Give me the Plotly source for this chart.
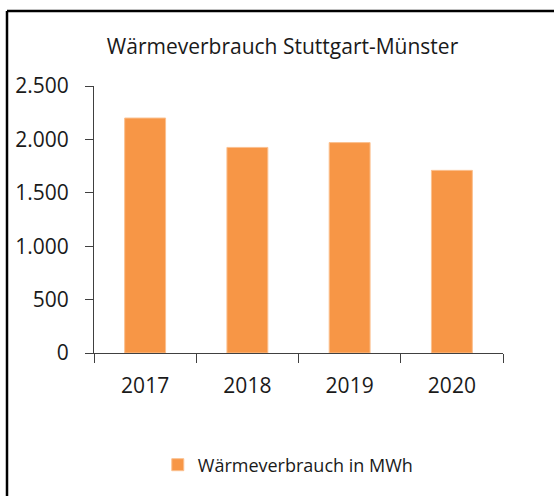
import plotly.graph_objects as go

years = ["2017", "2018", "2019", "2020"]
values = [2200, 1925, 1970, 1710]
y_ticks = [0, 500, 1000, 1500, 2000, 2500]
y_tick_labels = ["0", "500", "1.000", "1.500", "2.000", "2.500"]

W, H = 554, 496
ml, mr, mt, mb = 94, 51, 86, 143
pw = W - ml - mr
ph = H - mt - mb

FONT = "Open Sans"

fig = go.Figure()
fig.add_trace(go.Bar(
    x=years, y=values, name="Wärmeverbrauch in MWh",
    marker=dict(color="#F79646", line=dict(color="#FBC08F", width=1)),
    width=0.4,
))

def px_x(p):
    return (p - ml) / pw

def px_y(p):
    return (H - mb - p) / ph

fig.update_layout(
    width=W, height=H,
    margin=dict(l=ml, r=mr, t=mt, b=mb),
    paper_bgcolor="white", plot_bgcolor="white",
    font=dict(family=FONT, color="#1a1a1a"),
    title=dict(text="Wärmeverbrauch Stuttgart-Münster", x=0.51, xref="container",
               xanchor="center", y=1 - 47 / H, yref="container", yanchor="middle",
               font=dict(size=21, family=FONT, color="#1a1a1a")),
    showlegend=True,
    legend=dict(orientation="h", x=0.475, xanchor="center", y=px_y(465), yanchor="middle",
                font=dict(size=18, family=FONT, color="#1a1a1a"),
                itemwidth=30),
    bargap=0.6,
    shapes=[
        dict(type="line", xref="paper", yref="paper", x0=px_x(7), x1=px_x(560),
             y0=px_y(11), y1=px_y(11), line=dict(color="black", width=2.5)),
        dict(type="line", xref="paper", yref="paper", x0=px_x(7), x1=px_x(7),
             y0=px_y(11), y1=px_y(505), line=dict(color="black", width=2.5)),
    ],
)
fig.update_xaxes(
    type="category", showline=True, linecolor="#404040", linewidth=1,
    ticks="outside", tickson="boundaries", ticklen=9, tickcolor="#404040",
    showgrid=False, tickfont=dict(size=21, family=FONT, color="#1a1a1a"),
    ticklabelstandoff=14,
)
fig.update_yaxes(
    range=[0, 2500], tickvals=y_ticks, ticktext=y_tick_labels,
    showline=True, linecolor="#404040", linewidth=1,
    ticks="outside", ticklen=8, tickcolor="#404040",
    showgrid=False, zeroline=False,
    tickfont=dict(size=21, family=FONT, color="#1a1a1a"),
    ticklabelstandoff=12,
)

fig.write_html("out.html")
